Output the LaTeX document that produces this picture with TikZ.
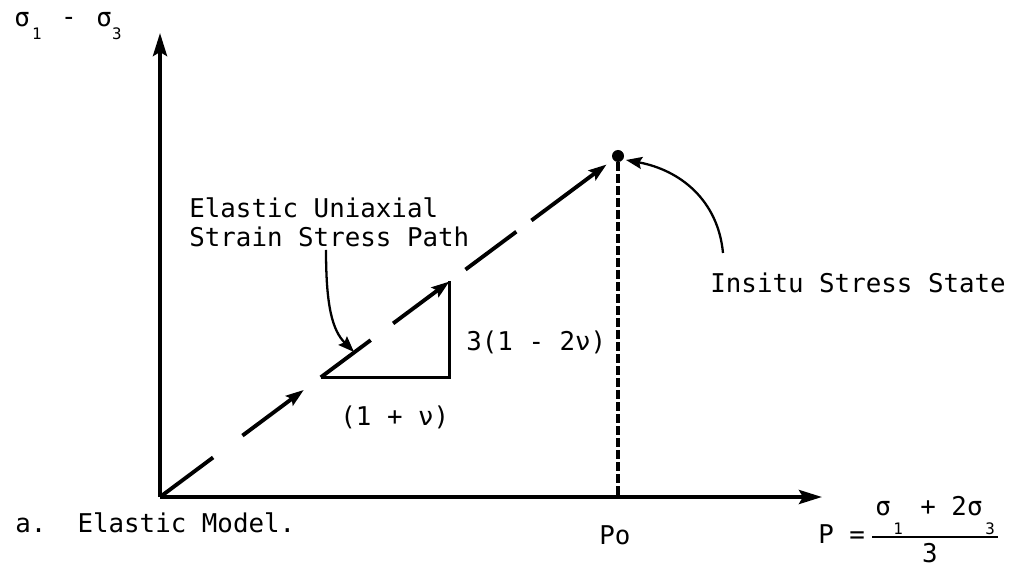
\documentclass[tikz,border=0pt]{standalone}
\usepackage{fontspec}
\setmonofont{DejaVu Sans Mono}
\usetikzlibrary{arrows.meta,calc}
\begin{document}
\begin{tikzpicture}[x=0.02cm,y=-0.02cm,
  axis/.style={line width=2.2pt,-{Stealth[length=0.46cm,width=0.28cm,inset=0.08cm]}},
  pathseg/.style={line width=2.2pt},
  patharrow/.style={pathseg,-{Stealth[length=0.36cm,width=0.24cm,inset=0.06cm]}},
  pointer/.style={line width=1.3pt,-{Stealth[length=0.32cm,width=0.24cm,inset=0.05cm]}},
  lbl/.style={font=\ttfamily\fontsize{14.7}{17}\selectfont,inner sep=0pt},
  sublbl/.style={font=\ttfamily\fontsize{9}{9}\selectfont,inner sep=0pt},
  vdash/.style={line width=2pt,dash pattern=on 0.17cm off 0.07cm}]
\useasboundingbox (0,0) rectangle (1014,567);

% axes
\coordinate (O) at (160,497);
\coordinate (Ytip) at (160,33);
\coordinate (Xtip) at (822,497);
\draw[axis] (O) -- (Ytip);
\draw[axis] (O) -- (Xtip);

% insitu point
\node[circle,fill,inner sep=0pt,minimum size=0.24cm] (peak) at (618,156) {};

% stress path (dashed with arrows)
\draw[pathseg] (O) -- ($(O)!0.116!(peak.center)$);
\draw[patharrow] ($(O)!0.18!(peak.center)$) -- ($(O)!0.314!(peak.center)$);
\coordinate (A) at ($(O)!0.351!(peak.center)$);
\coordinate (C) at ($(O)!0.632!(peak.center)$);
\draw[pathseg] (A) -- ($(O)!0.46!(peak.center)$);
\draw[patharrow] ($(O)!0.509!(peak.center)$) -- (C);
\draw[pathseg] ($(O)!0.667!(peak.center)$) -- ($(O)!0.778!(peak.center)$);
\draw[patharrow] ($(O)!0.811!(peak.center)$) -- ($(O)!0.975!(peak.center)$);

% slope triangle
\coordinate (B) at (A -| C);
\draw[line width=2pt] (A) -- (B) -- (C);
\node[lbl,anchor=base west] (run) at (340,425) {(1 + ν)};
\node[lbl,anchor=base west] (rise) at (466,351) {3(1 - 2ν)};

% vertical dashed to Po
\coordinate (Pfoot) at (peak |- O);
\draw[vdash] (peak.south) -- (Pfoot);
\node[lbl,anchor=base west] (po) at (599,544) {Po};

% labels with pointers
\node[lbl,anchor=base west,align=left] (elab) at (189,247) {Elastic Uniaxial\\Strain Stress Path};
\coordinate (e1) at (326,250);
\draw[pointer] (e1) .. controls (326,305) and (332,330) .. (354,352);

\node[lbl,anchor=base west] (ins) at (710,293) {Insitu Stress State};
\coordinate (i1) at (723,253);
\draw[pointer] (i1) .. controls (718,200) and (680,170) .. (626,160);

% y axis label
\node[lbl,anchor=base west] (ys1) at (14,27) {σ};
\node[sublbl] (ysub1) at (37,34) {1};
\node[lbl] (yminus) at (69,21) {-};
\node[lbl,anchor=base west] (ys3) at (96,27) {σ};
\node[sublbl] (ysub3) at (117,34) {3};

% x axis label
\node[lbl,anchor=base west] (pl) at (818,543) {P =};
\node[lbl,anchor=base west] (ns1) at (875,515) {σ};
\node[sublbl] (nsub1) at (898,529) {1};
\node[lbl,anchor=base west] (nplus) at (920,515) {+ 2σ};
\node[sublbl] (nsub3) at (990,529) {3};
\coordinate (fl) at (872,537);
\coordinate (fr) at (998,537);
\draw[line width=1.2pt] (fl) -- (fr);
\node[lbl,anchor=base] (den) at (930,562) {3};

% caption
\node[lbl,anchor=base west] (cap) at (15,532) {a.\ \ Elastic Model.};
\end{tikzpicture}
\end{document}
